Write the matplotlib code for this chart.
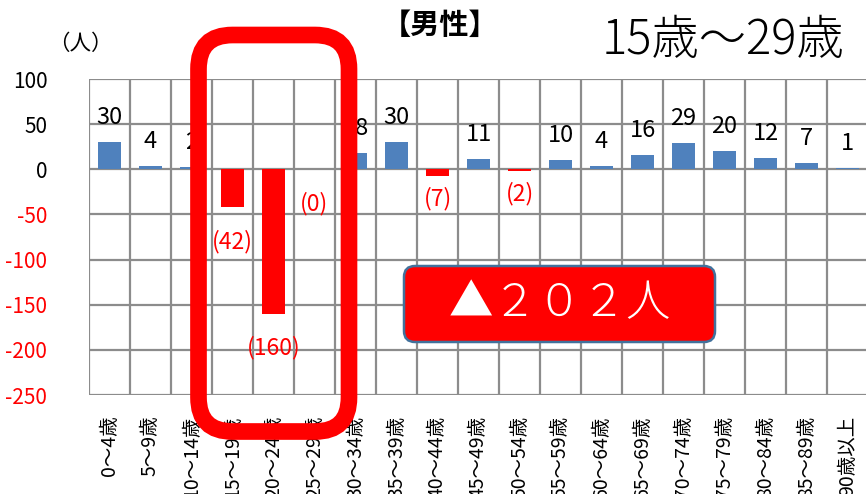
import matplotlib
matplotlib.use("Agg")
import matplotlib.pyplot as plt
from matplotlib.patches import FancyBboxPatch
from matplotlib.transforms import IdentityTransform

plt.rcParams['font.family'] = ['Noto Sans CJK JP', 'DejaVu Sans']

# Age groups and net change in male population (non-positive values are losses)
age_groups = ["0～4歳", "5～9歳", "10～14歳", "15～19歳", "20～24歳", "25～29歳",
              "30～34歳", "35～39歳", "40～44歳", "45～49歳", "50～54歳", "55～59歳",
              "60～64歳", "65～69歳", "70～74歳", "75～79歳", "80～84歳", "85～89歳",
              "90歳以上"]
values = [30, 4, 2, -42, -160, 0, 18, 30, -7, 11, -2, 10, 4, 16, 29, 20, 12, 7, 1]
y_ticks = [100, 50, 0, -50, -100, -150, -200, -250]

BLUE = "#4F81BD"
RED = "#FF0000"
GRID = "#8C8C8C"

W, H = 866, 494
fig = plt.figure(figsize=(W / 100, H / 100), dpi=100)
ax = fig.add_axes([89 / W, 1 - 395 / H, (868 - 89) / W, (395 - 79) / H])

x = list(range(len(values)))
colors = [BLUE if v > 0 else RED for v in values]
ax.bar(x, values, width=0.58, color=colors, zorder=3)

ax.set_xlim(-0.5, len(values) - 0.5)
ax.set_ylim(-250, 100)
ax.set_yticks(y_ticks)
ax.set_yticklabels([str(t) for t in y_ticks], fontsize=15)
for lbl, t in zip(ax.get_yticklabels(), y_ticks):
    lbl.set_color("black" if t >= 0 else RED)

ax.set_xticks(x)
ax.set_xticklabels(age_groups, rotation=90, fontsize=14, va="top", ha="center")
ax.tick_params(axis="both", length=0)
ax.tick_params(axis="y", pad=30)
ax.tick_params(axis="x", pad=15)

# grid: horizontal at ticks, vertical at category boundaries
for t in y_ticks:
    ax.axhline(t, color=GRID, lw=1.6, zorder=1)
for b in range(len(values) + 1):
    ax.axvline(b - 0.5, color=GRID, lw=1.6, zorder=1)
for s in ax.spines.values():
    s.set_visible(False)

# value labels
for i, v in enumerate(values):
    if v > 0:
        ax.annotate(str(v), (i, v), xytext=(0, 13), textcoords="offset points",
                    ha="center", va="baseline", fontsize=17, color="black", zorder=4)
    else:
        off = -16 if (v <= -20 or v == 0) else -8
        ax.annotate(f"({-v})", (i, v), xytext=(0, off), textcoords="offset points",
                    ha="center", va="top", fontsize=16.5, color=RED, zorder=4)

# texts around the chart
fig.text(440 / W, 1 - 25 / H, "【男性】", ha="center", va="center",
         fontsize=21, fontweight="bold")
fig.text(723 / W, 1 - 41 / H, "15歳～29歳", ha="center", va="center",
         fontsize=34, fontweight="light")
fig.text(80 / W, 1 - 44 / H, "（人）", ha="center", va="center", fontsize=15.5)

# highlight frame around 15-29 age groups
frame = FancyBboxPatch((198.5, H - 431.5), 349 - 198.5, 431.5 - 35,
                       boxstyle="round,pad=0,rounding_size=34",
                       transform=IdentityTransform(), fill=False,
                       edgecolor=RED, linewidth=12, zorder=10)
fig.add_artist(frame)

# total change callout
box = FancyBboxPatch((404, H - 342), 715 - 404, 342 - 266,
                     boxstyle="round,pad=0,rounding_size=11",
                     transform=IdentityTransform(), facecolor=RED,
                     edgecolor="#41719C", linewidth=1.8, zorder=10)
fig.add_artist(box)
fig.text(560 / W, 1 - 304 / H, "▲２０２人", ha="center", va="center",
         fontsize=32, color="white", fontweight="light", zorder=11)

fig.savefig("out.png", dpi=100)
